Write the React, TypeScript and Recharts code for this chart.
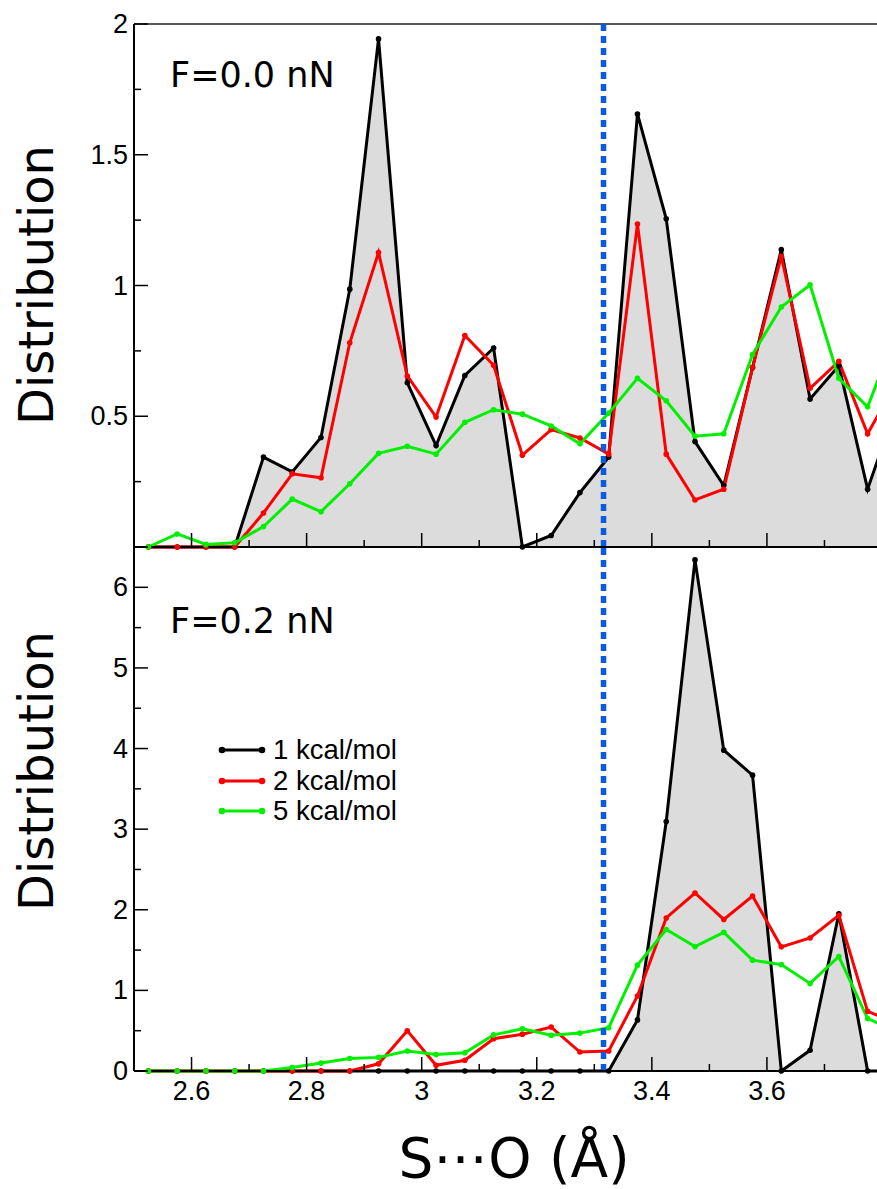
import { ComposedChart, Area, Line, XAxis, YAxis, ReferenceLine, Legend } from 'recharts';

// bin centres of the S...O distance histogram (last bin lies past the cropped edge)
const DISTANCE = [
  2.525, 2.575, 2.625, 2.675, 2.725, 2.775, 2.825, 2.875, 2.925, 2.975, 3.025, 3.075, 3.125, 3.175,
  3.225, 3.275, 3.325, 3.375, 3.425, 3.475, 3.525, 3.575, 3.625, 3.675, 3.725, 3.775, 3.825,
];

// F = 0.0 nN
const F00_1KCAL = [
  0, 0, 0, 0, 0.344, 0.287, 0.419, 0.986, 1.943, 0.628, 0.388, 0.656, 0.761, 0, 0.044, 0.208, 0.344,
  1.656, 1.255, 0.403, 0.235, 0.686, 1.137, 0.566, 0.693, 0.221, 0.54,
];
const F00_2KCAL = [
  0, 0, 0, 0, 0.13, 0.28, 0.265, 0.781, 1.126, 0.654, 0.497, 0.809, 0.695, 0.351, 0.449, 0.417, 0.355,
  1.235, 0.355, 0.18, 0.221, 0.686, 1.112, 0.607, 0.71, 0.433, 0.63,
];
const F00_5KCAL = [
  0, 0.05, 0.01, 0.016, 0.078, 0.183, 0.135, 0.242, 0.358, 0.385, 0.355, 0.477, 0.525, 0.508, 0.463,
  0.395, 0.512, 0.645, 0.559, 0.424, 0.433, 0.736, 0.918, 1.003, 0.645, 0.536, 0.82,
];

// F = 0.2 nN
const F02_1KCAL = [
  0, 0, 0, 0, 0, 0, 0, 0, 0, 0, 0, 0, 0, 0, 0, 0, 0, 0.634, 3.095, 6.34, 3.98, 3.67, 0, 0.257, 1.95, 0, 0,
];
const F02_2KCAL = [
  0, 0, 0, 0, 0, 0, 0, 0, 0.089, 0.5, 0.071, 0.133, 0.4, 0.457, 0.545, 0.235, 0.248, 0.931, 1.898,
  2.208, 1.88, 2.17, 1.54, 1.65, 1.93, 0.74, 0.6,
];
const F02_5KCAL = [
  0, 0, 0, 0, 0, 0.044, 0.098, 0.155, 0.169, 0.248, 0.204, 0.226, 0.448, 0.523, 0.443, 0.47, 0.537,
  1.313, 1.756, 1.543, 1.72, 1.375, 1.32, 1.086, 1.42, 0.65, 0.5,
];

const X_TICKS = [2.5, 2.6, 2.7, 2.8, 2.9, 3.0, 3.1, 3.2, 3.3, 3.4, 3.5, 3.6, 3.7, 3.8];
const X_LABELS = [2.6, 2.8, 3.0, 3.2, 3.4, 3.6];
const TOP_Y_TICKS = [0, 0.25, 0.5, 0.75, 1, 1.25, 1.5, 1.75, 2];
const TOP_Y_LABELS = [0.5, 1, 1.5, 2];
const BOTTOM_Y_TICKS = [0, 0.5, 1, 1.5, 2, 2.5, 3, 3.5, 4, 4.5, 5, 5.5, 6, 6.5];
const BOTTOM_Y_LABELS = [0, 1, 2, 3, 4, 5, 6];

const CUTOFF = 3.316;

const SERIES = [
  { key: 'k1', name: '1 kcal/mol', color: '#000000' },
  { key: 'k2', name: '2 kcal/mol', color: '#ff0000' },
  { key: 'k5', name: '5 kcal/mol', color: '#00f000' },
];

const SANS = '"Liberation Sans", Arial, Helvetica, sans-serif';
const DEJAVU = '"DejaVu Sans", sans-serif';
const FILL = '#dcdcdc';
const BLUE = '#0a5be0';
const AXIS_LINE = { stroke: '#000', strokeWidth: 2 };

const rows = (a: number[], b: number[], c: number[]) =>
  DISTANCE.map((x, i) => ({ x, k1: a[i], k2: b[i], k5: c[i] }));

const topRows = rows(F00_1KCAL, F00_2KCAL, F00_5KCAL);
const bottomRows = rows(F02_1KCAL, F02_2KCAL, F02_5KCAL);

const near = (a: number, b: number) => Math.abs(a - b) < 1e-6;
const fmt = (v: number) => String(Math.round(v * 10) / 10);

function makeXTick(withLabels: boolean) {
  return (props: any) => {
    const { x, y, payload } = props;
    const v = payload.value;
    const major = X_LABELS.some((m) => near(m, v));
    return (
      <g>
        <line x1={x} x2={x} y1={y} y2={y - (major ? 14 : 7)} stroke="#000" strokeWidth={1.5} />
        {withLabels && major && (
          <text x={x} y={y + 29} textAnchor="middle" fontSize={27} fontFamily={SANS} fill="#000">
            {fmt(v)}
          </text>
        )}
      </g>
    );
  };
}

function makeYTick(labels: number[], step: number, side: 'left' | 'right') {
  return (props: any) => {
    const { x, y, payload } = props;
    const v = payload.value;
    const major = near(v / step, Math.round(v / step));
    const len = major ? 14 : 7;
    const dir = side === 'left' ? 1 : -1;
    return (
      <g>
        <line x1={x} x2={x + dir * len} y1={y} y2={y} stroke="#000" strokeWidth={1.5} />
        {side === 'left' && labels.some((l) => near(l, v)) && (
          <text x={x - 6} y={y} textAnchor="end" dominantBaseline="central" fontSize={27} fontFamily={SANS} fill="#000">
            {fmt(v)}
          </text>
        )}
      </g>
    );
  };
}

const distributionLabel = (cy: number) => () => (
  <text
    transform={`translate(53, ${cy}) rotate(-90)`}
    textAnchor="middle"
    fontSize={48}
    fontFamily={DEJAVU}
    fill="#000"
  >
    Distribution
  </text>
);

const renderLegend = () => (
  <div style={{ fontFamily: SANS, fontSize: 27.5, color: '#000' }}>
    {SERIES.map((s) => (
      <div key={s.key} style={{ display: 'flex', alignItems: 'center', height: 30.5 }}>
        <svg width={48} height={12}>
          <line x1={4} x2={44} y1={6} y2={6} stroke={s.color} strokeWidth={3} />
          <circle cx={4} cy={6} r={3.3} fill={s.color} />
          <circle cx={44} cy={6} r={3.3} fill={s.color} />
        </svg>
        <span style={{ marginLeft: 7, whiteSpace: 'nowrap' }}>{s.name}</span>
      </div>
    ))}
  </div>
);

function Series() {
  return [
    <Area
      key="fill"
      yAxisId="l"
      type="linear"
      dataKey="k1"
      fill={FILL}
      fillOpacity={1}
      stroke="none"
      isAnimationActive={false}
      dot={false}
      activeDot={false}
      legendType="none"
    />,
    ...SERIES.map((s) => (
      <Line
        key={s.key}
        yAxisId="l"
        type="linear"
        dataKey={s.key}
        name={s.name}
        stroke={s.color}
        strokeWidth={3}
        dot={{ r: 2.8, fill: s.color, stroke: s.color, strokeWidth: 0 }}
        activeDot={false}
        isAnimationActive={false}
      />
    )),
  ];
}

export default function App() {
  return (
    <div style={{ position: 'absolute', left: 0, top: 0, width: 877, height: 1189, overflow: 'hidden', background: '#fff' }}>
      <div style={{ position: 'absolute', left: 0, top: 0 }}>
        <ComposedChart width={900} height={560} data={topRows} margin={{ top: 24, right: 8, bottom: 3, left: 74 }}>
          <XAxis
            type="number"
            dataKey="x"
            domain={[2.5, 3.8]}
            allowDataOverflow
            ticks={X_TICKS}
            interval={0}
            height={10}
            tickSize={0}
            tickMargin={0}
            tickLine={false}
            axisLine={AXIS_LINE}
            tick={makeXTick(false)}
          />
          <YAxis
            yAxisId="l"
            type="number"
            domain={[0, 2]}
            ticks={TOP_Y_TICKS}
            interval={0}
            width={60}
            tickSize={0}
            tickMargin={0}
            tickLine={false}
            axisLine={AXIS_LINE}
            tick={makeYTick(TOP_Y_LABELS, 0.5, 'left')}
            label={{ content: distributionLabel(285) }}
          />
          <YAxis
            yAxisId="r"
            orientation="right"
            type="number"
            domain={[0, 2]}
            ticks={TOP_Y_TICKS}
            interval={0}
            width={10}
            tickSize={0}
            tickMargin={0}
            tickLine={false}
            axisLine={AXIS_LINE}
            tick={makeYTick([], 0.5, 'right')}
          />
          {Series()}
          <ReferenceLine yAxisId="l" y={2} stroke="#555" strokeWidth={2} />
          <ReferenceLine yAxisId="l" x={CUTOFF} stroke={BLUE} strokeWidth={5.5} strokeDasharray="7 5" />
          <text x={170} y={87} fontSize={35} fontFamily={DEJAVU} fill="#000">
            F=0.0 nN
          </text>
        </ComposedChart>
      </div>
      <div style={{ position: 'absolute', left: 0, top: 530 }}>
        <ComposedChart width={900} height={659} data={bottomRows} margin={{ top: 17, right: 8, bottom: 8, left: 74 }}>
          <XAxis
            type="number"
            dataKey="x"
            domain={[2.5, 3.8]}
            allowDataOverflow
            ticks={X_TICKS}
            interval={0}
            height={110}
            tickSize={0}
            tickMargin={0}
            tickLine={false}
            axisLine={AXIS_LINE}
            tick={makeXTick(true)}
            label={{
              content: () => (
                <text x={514} y={647} textAnchor="middle" fontSize={55} fontFamily={DEJAVU} fill="#000">
                  S⋯O (Å)
                </text>
              ),
            }}
          />
          <YAxis
            yAxisId="l"
            type="number"
            domain={[0, 6.5]}
            ticks={BOTTOM_Y_TICKS}
            interval={0}
            width={60}
            tickSize={0}
            tickMargin={0}
            tickLine={false}
            axisLine={AXIS_LINE}
            tick={makeYTick(BOTTOM_Y_LABELS, 1, 'left')}
            label={{ content: distributionLabel(771 - 530) }}
          />
          <YAxis
            yAxisId="r"
            orientation="right"
            type="number"
            domain={[0, 6.5]}
            ticks={BOTTOM_Y_TICKS}
            interval={0}
            width={10}
            tickSize={0}
            tickMargin={0}
            tickLine={false}
            axisLine={AXIS_LINE}
            tick={makeYTick([], 1, 'right')}
          />
          {Series()}
          <ReferenceLine yAxisId="l" x={CUTOFF} stroke={BLUE} strokeWidth={5.5} strokeDasharray="7 5" />
          <text x={170} y={633 - 530} fontSize={35} fontFamily={DEJAVU} fill="#000">
            F=0.2 nN
          </text>
          <Legend
            content={renderLegend}
            layout="horizontal"
            verticalAlign="middle"
            align="center"
            wrapperStyle={{ left: 218, top: 750 - 530 - 15, width: 'auto' }}
          />
        </ComposedChart>
      </div>
    </div>
  );
}
